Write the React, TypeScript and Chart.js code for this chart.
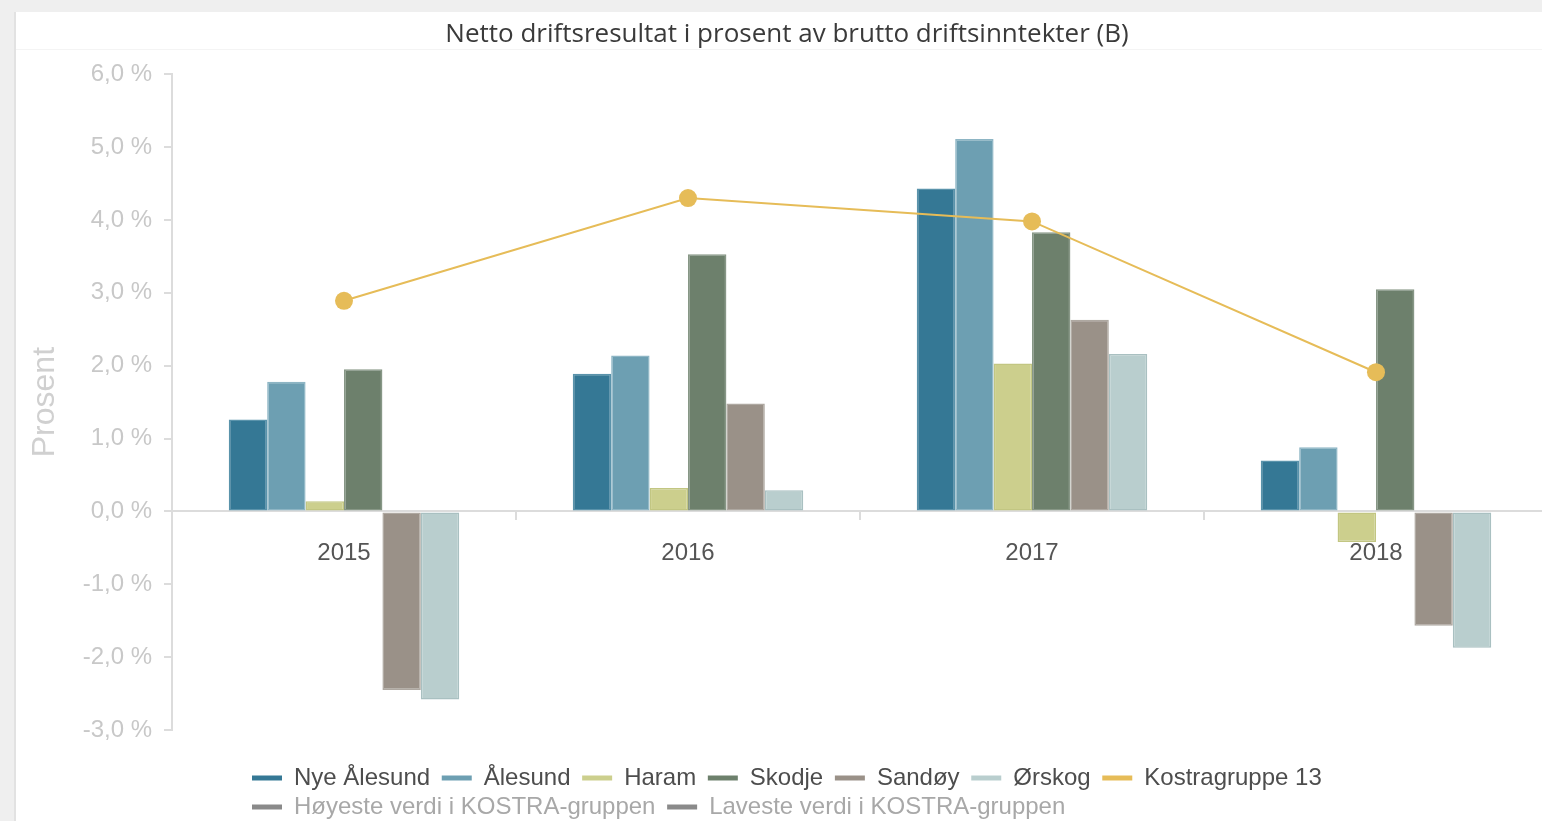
import React, { useEffect, useRef } from 'react';
import { Chart, registerables } from 'chart.js';

Chart.register(...registerables);

const years = ['2015', '2016', '2017', '2018'];
const nyeAlesund = [1.26, 1.89, 4.43, 0.7];
const alesund = [1.78, 2.14, 5.11, 0.88];
const haram = [0.14, 0.32, 2.03, -0.42];
const skodje = [1.95, 3.53, 3.83, 3.05];
const sandoy = [-2.45, 1.48, 2.63, -1.57];
const orskog = [-2.58, 0.29, 2.16, -1.87];
const kostragruppe13 = [2.89, 4.3, 3.98, 1.91];
const hoyesteVerdi: (number | null)[] = [];
const lavesteVerdi: (number | null)[] = [];

const yMin = -3;
const yMax = 6;
const yStep = 1;

const SANS = "'Liberation Sans', Arial, sans-serif";

const barSeries = [
  { label: 'Nye Ålesund', data: nyeAlesund, fill: '#357895', border: '#5a93ab' },
  { label: 'Ålesund', data: alesund, fill: '#6d9fb2', border: '#8db5c4' },
  { label: 'Haram', data: haram, fill: '#cccf8d', border: '#c2c682' },
  { label: 'Skodje', data: skodje, fill: '#6d806c', border: '#879786' },
  { label: 'Sandøy', data: sandoy, fill: '#9a9188', border: '#aea8a1' },
  { label: 'Ørskog', data: orskog, fill: '#b9cece', border: '#a9c0c1' },
];

const formatPct = (v: number) => v.toFixed(1).replace('.', ',') + ' %';

export default function App() {
  const ref = useRef<HTMLCanvasElement | null>(null);

  useEffect(() => {
    if (!ref.current) return;
    const legendPlacer = {
      id: 'legendPlacer',
      beforeDraw(chart: any) {
        const lg = chart.legend;
        if (!lg) return;
        lg.left = 231;
        lg.top = 749;
        lg.bottom = 809;
        lg.height = 60;
      },
    };
    const datasets: any[] = [
      ...barSeries.map((s) => ({
        type: 'bar',
        label: s.label,
        data: s.data,
        backgroundColor: s.fill,
        borderColor: s.border,
        borderWidth: 1.5,
        borderSkipped: false,
        order: 1,
        categoryPercentage: 0.67,
        barPercentage: 1.0,
      })),
      {
        type: 'line',
        label: 'Kostragruppe 13',
        data: kostragruppe13,
        borderColor: '#e6bc58',
        backgroundColor: '#e6bc58',
        borderWidth: 2,
        pointRadius: 9,
        pointBackgroundColor: '#e6bc58',
        pointBorderWidth: 0,
        order: 0,
      },
      {
        type: 'line',
        label: 'Høyeste verdi i KOSTRA-gruppen',
        data: hoyesteVerdi,
        borderColor: '#8a8a8a',
        backgroundColor: '#8a8a8a',
        order: 2,
      },
      {
        type: 'line',
        label: 'Laveste verdi i KOSTRA-gruppen',
        data: lavesteVerdi,
        borderColor: '#8a8a8a',
        backgroundColor: '#8a8a8a',
        order: 2,
      },
    ];

    const chart = new Chart(ref.current, {
      type: 'bar',
      data: { labels: years, datasets },
      plugins: [legendPlacer],
      options: {
        responsive: false,
        animation: false,
        layout: { padding: { left: 10, right: 22, top: 0, bottom: 23 } },
        plugins: {
          tooltip: { enabled: false },
          title: {
            display: true,
            text: 'Netto driftsresultat i prosent av brutto driftsinntekter (B)',
            color: '#3a3a3a',
            font: { family: "'Open Sans', sans-serif", size: 26, weight: 'normal' },
            padding: { top: 7, bottom: 24 },
          },
          legend: {
            display: true,
            position: 'bottom',
            align: 'start',
            fullSize: false,
            labels: {
              boxWidth: 30,
              boxHeight: 5,
              padding: 5,
              color: '#4d4d4d',
              font: { family: SANS, size: 24 },
              generateLabels: (c: any) =>
                c.data.datasets.map((ds: any, i: number) => ({
                  text: ds.label + ' ',
                  fillStyle: ds.type === 'line' ? ds.borderColor : ds.backgroundColor,
                  strokeStyle: ds.type === 'line' ? ds.borderColor : ds.backgroundColor,
                  lineWidth: 0,
                  fontColor: i >= 7 ? '#a8a8a8' : '#4d4d4d',
                  hidden: false,
                  datasetIndex: i,
                })),
            },
          },
        },
        scales: {
          x: {
            type: 'category',
            position: { y: 0 } as any,
            offset: true,
            grid: {
              display: true,
              drawOnChartArea: false,
              drawTicks: true,
              tickLength: 8,
              color: '#dcdcdc',
              lineWidth: 2,
              offset: true,
            },
            border: { display: true, color: '#dcdcdc', width: 2 },
            ticks: {
              color: '#555555',
              font: { family: SANS, size: 24 },
              padding: 20,
              maxRotation: 0,
            },
          },
          y: {
            type: 'linear',
            position: 'left',
            min: yMin,
            max: yMax,
            afterFit: (scale: any) => {
              scale.width = 146;
            },
            ticks: {
              stepSize: yStep,
              color: '#c8c8c8',
              font: { family: SANS, size: 24 },
              padding: 12,
              callback: (v: any) => formatPct(Number(v)),
            },
            grid: {
              drawOnChartArea: false,
              drawTicks: true,
              tickLength: 8,
              color: '#dcdcdc',
              lineWidth: 2,
            },
            border: { display: true, color: '#dcdcdc', width: 2 },
            title: {
              display: true,
              text: 'Prosent',
              color: '#d0d0d0',
              font: { family: SANS, size: 32 },
              padding: { top: 0, bottom: 0 },
            },
          },
        },
      } as any,
    });
    return () => chart.destroy();
  }, []);

  return (
    <div
      style={{
        position: 'fixed',
        left: 0,
        top: 0,
        width: 1542,
        height: 821,
        overflow: 'hidden',
        background: '#efefef',
      }}
    >
      <div style={{ position: 'absolute', left: 14, top: 12, width: 2, height: 809, background: '#e2e2e2' }} />
      <div
        style={{
          position: 'absolute',
          left: 16,
          top: 12,
          width: 1600,
          height: 809,
          background: '#ffffff',
        }}
      >
        <div style={{ position: 'absolute', left: 0, top: 37, width: '100%', height: 1, background: '#f4f4f4' }} />
        <canvas
          ref={ref}
          width={1554}
          height={809}
          style={{ position: 'absolute', left: 0, top: 0, display: 'block' }}
        />
      </div>
    </div>
  );
}
